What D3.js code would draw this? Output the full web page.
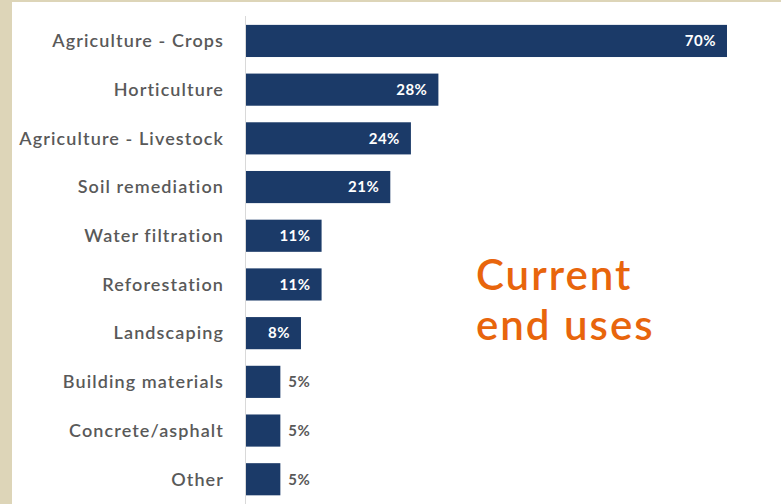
<!DOCTYPE html>
<html>
<head>
<meta charset="utf-8">
<script src="https://cdn.jsdelivr.net/npm/d3@7"></script>
<style>
  body { margin: 0; background: #fff; }
  svg { display: block; }
</style>
</head>
<body>
<div id="container"></div>
<script>
const categories = [
  "Agriculture - Crops", "Horticulture", "Agriculture - Livestock", "Soil remediation",
  "Water filtration", "Reforestation", "Landscaping", "Building materials",
  "Concrete/asphalt", "Other"
];
const values = [70, 28, 24, 21, 11, 11, 8, 5, 5, 5];
const titleLines = ["Current", "end uses"];

const width = 781;
const height = 504;
const barColor = "#1b3a68";
const fontFamily = "Lato, 'Open Sans', sans-serif";

const data = categories.map((c, i) => ({ name: c, value: values[i] }));

const svg = d3.select("#container")
  .append("svg")
  .attr("width", width)
  .attr("height", height);

// beige frame on left and top
svg.append("rect").attr("x", 0).attr("y", 0).attr("width", width).attr("height", height).attr("fill", "#ddd5b8");
svg.append("rect").attr("x", 12).attr("y", 2).attr("width", width - 12).attr("height", height - 2).attr("fill", "#fff");

const xScale = d3.scaleLinear()
  .domain([0, 70])
  .range([246, 727]);

const yScale = d3.scaleBand()
  .domain(categories)
  .range([16.6, 503.6])
  .paddingInner(0.34)
  .paddingOuter(0.17);

// axis line
svg.append("line")
  .attr("x1", 245.5).attr("x2", 245.5)
  .attr("y1", 16).attr("y2", height)
  .attr("stroke", "#d9d9d9")
  .attr("stroke-width", 1);

// bars
svg.selectAll(".bar")
  .data(data)
  .enter()
  .append("rect")
  .attr("class", "bar")
  .attr("x", xScale(0))
  .attr("y", d => yScale(d.name))
  .attr("width", d => xScale(d.value) - xScale(0))
  .attr("height", yScale.bandwidth())
  .attr("fill", barColor);

// category labels
svg.selectAll(".cat")
  .data(data)
  .enter()
  .append("text")
  .attr("class", "cat")
  .attr("x", 224)
  .attr("y", d => yScale(d.name) + yScale.bandwidth() / 2)
  .attr("dy", "0.35em")
  .attr("text-anchor", "end")
  .style("font-family", fontFamily)
  .style("font-size", "18px")
  .style("font-weight", "600")
  .style("letter-spacing", "1.1px")
  .attr("fill", "#595959")
  .text(d => d.name);

// value labels
svg.selectAll(".val")
  .data(data)
  .enter()
  .append("text")
  .attr("class", "val")
  .attr("x", d => d.value >= 8 ? xScale(d.value) - 11 : xScale(d.value) + 8)
  .attr("y", d => yScale(d.name) + yScale.bandwidth() / 2)
  .attr("dy", "0.35em")
  .attr("text-anchor", d => d.value >= 8 ? "end" : "start")
  .style("font-family", fontFamily)
  .style("font-size", "15px")
  .style("font-weight", "bold")
  .style("letter-spacing", "0.5px")
  .attr("fill", d => d.value >= 8 ? "#fff" : "#595959")
  .text(d => d.value + "%");

// title
svg.append("text")
  .attr("x", 476)
  .attr("y", 290)
  .style("font-family", fontFamily)
  .style("font-size", "42px")
  .style("font-weight", "600")
  .style("letter-spacing", "2px")
  .attr("fill", "#e8650c")
  .selectAll("tspan")
  .data(titleLines)
  .enter()
  .append("tspan")
  .attr("x", 476)
  .attr("dy", (d, i) => i === 0 ? 0 : 50)
  .text(d => d);
</script>
</body>
</html>
